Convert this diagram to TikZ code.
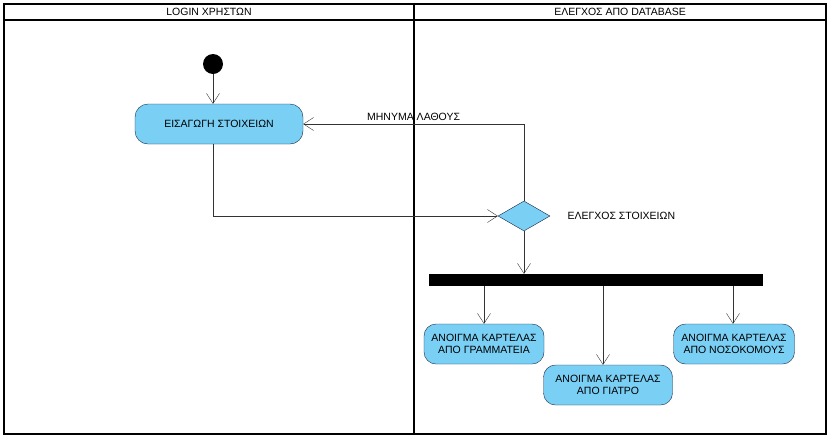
\documentclass[tikz,border=0pt]{standalone}
\usepackage{fontspec}
\setmainfont{Liberation Sans}
\usetikzlibrary{positioning, arrows.meta, shapes.geometric}
\definecolor{actfill}{RGB}{122,207,245}
\definecolor{actline}{RGB}{25,40,70}

\begin{document}
\begin{tikzpicture}[
		x=1pt, y=-1pt,
		>={Straight Barb[length=10pt, width=13pt]},
		action/.style={draw=actline, fill=actfill, rectangle, rounded corners=13pt, minimum width=168pt, minimum height=40pt, align=center, font=\fontsize{10.5}{12.5}\selectfont, inner sep=2pt},
		subaction/.style={action, minimum width=120pt, rounded corners=12pt},
		decision/.style={draw=actline, fill=actfill, diamond, minimum width=52pt, minimum height=30pt, inner sep=0pt},
		lanehead/.style={font=\fontsize{10.5}{12}\selectfont},
		flow/.style={draw=black!80, ->},
	]
	\useasboundingbox (0,0) rectangle (830,440);

	% swimlanes
	\draw[line width=1.6pt] (4,4) rectangle (826,434);
	\draw[line width=1.2pt] (4,20) -- (826,20);
	\draw[line width=1.6pt] (414,4) -- (414,434);
	\node[lanehead] (lane_login) at (209,12) {LOGIN ΧΡΗΣΤΩΝ};
	\node[lanehead] (lane_db) at (620,12) {ΕΛΕΓΧΟΣ ΑΠΟ DATABASE};

	% nodes
	\node[circle, fill=black, minimum size=20pt, inner sep=0pt] (start) at (213,64) {};
	\node[action] (insert) at (219,124) {ΕΙΣΑΓΩΓΗ ΣΤΟΙΧΕΙΩΝ};
	\node[decision] (check) at (524,216) {};
	\node[font=\fontsize{10.5}{12.5}\selectfont, anchor=west] (check_label) at (564,216) {ΕΛΕΓΧΟΣ ΣΤΟΙΧΕΙΩΝ};
	\node[rectangle, fill=black, minimum width=334pt, minimum height=12pt, inner sep=0pt] (fork) at (596,280) {};
	\node[subaction] (secretary) at (484,344) {ΑΝΟΙΓΜΑ ΚΑΡΤΕΛΑΣ\\ΑΠΟ ΓΡΑΜΜΑΤΕΙΑ};
	\node[subaction, minimum width=129pt] (doctor) at (608,385) {ΑΝΟΙΓΜΑ ΚΑΡΤΕΛΑΣ\\ΑΠΟ ΓΙΑΤΡΟ};
	\node[subaction, minimum width=121pt] (nurse) at (734,344) {ΑΝΟΙΓΜΑ ΚΑΡΤΕΛΑΣ\\ΑΠΟ ΝΟΣΟΚΟΜΟΥΣ};

	% connectors
	\draw[flow] (start) -- (start |- insert.north);
	\draw[flow] (start |- insert.south) |- (check.west);
	\draw[flow] (check.north) |- (insert.east)
		node[pos=0.75, above, font=\fontsize{10.5}{12.5}\selectfont] (error_label) {ΜΗΝΥΜΑ ΛΑΘΟΥΣ};
	\draw[flow] (check.south) -- (check.south |- fork.north);
	\draw[flow] (fork.south -| secretary.north) -- (secretary.north);
	\draw[flow] ([xshift=-5pt]fork.south -| doctor.north) -- ([xshift=-5pt]doctor.north);
	\draw[flow] ([xshift=-1pt]fork.south -| nurse.north) -- ([xshift=-1pt]nurse.north);
\end{tikzpicture}
\end{document}
